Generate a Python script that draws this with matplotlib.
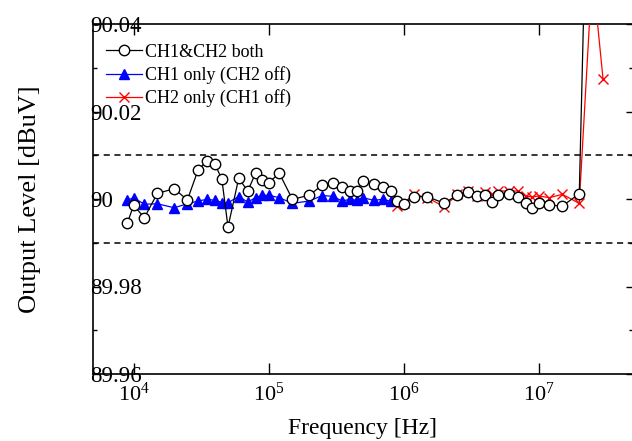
import matplotlib
matplotlib.use('Agg')
import matplotlib.pyplot as plt
from matplotlib.ticker import FixedLocator, NullLocator, FuncFormatter

plt.rcParams['font.family'] = ['Liberation Serif', 'DejaVu Serif']
plt.rcParams['mathtext.fontset'] = 'custom'
plt.rcParams['mathtext.rm'] = 'Liberation Serif'
plt.rcParams['mathtext.default'] = 'regular'

# frequency points (Hz)
freq_both = [9e3, 1e4, 1.2e4, 1.5e4, 2e4, 2.5e4, 3e4, 3.5e4, 4e4, 4.5e4, 5e4, 6e4, 7e4, 8e4, 9e4,
             1e5, 1.2e5, 1.5e5, 2e5, 2.5e5, 3e5, 3.5e5, 4e5, 4.5e5, 5e5, 6e5, 7e5, 8e5, 9e5,
             1e6, 1.2e6, 1.5e6, 2e6, 2.5e6, 3e6, 3.5e6, 4e6, 4.5e6, 5e6, 6e6, 7e6, 8e6, 9e6,
             1e7, 1.2e7, 1.5e7, 2e7, 2.5e7]
level_both = [89.99458, 89.99856, 89.99573, 90.0013, 90.00235, 89.99977, 90.00663, 90.00869, 90.00793,
              90.00457, 89.9936, 90.00473, 90.00183, 90.00587, 90.00427,
              90.00373, 90.00587, 89.99993, 90.00085, 90.0032, 90.00373, 90.00281, 90.00183, 90.00183,
              90.00411, 90.00336, 90.00281, 90.00183, 89.99954,
              89.99893, 90.00053, 90.00053, 89.99902, 90.00091, 90.0016, 90.00069, 90.00091, 89.99938,
              90.00091, 90.00107, 90.00057, 89.99915, 89.99801,
              89.99915, 89.99863, 89.9984, 90.00121, 90.125]

freq_ch1 = [9e3, 1e4, 1.2e4, 1.5e4, 2e4, 2.5e4, 3e4, 3.5e4, 4e4, 4.5e4, 5e4, 6e4, 7e4, 8e4, 9e4,
            1e5, 1.2e5, 1.5e5, 2e5, 2.5e5, 3e5, 3.5e5, 4e5, 4.5e5, 5e5, 6e5, 7e5, 8e5]
level_ch1 = [89.9997, 90.0003, 89.9988, 89.9989, 89.998, 89.9989, 89.99954, 89.99993, 89.9997,
             89.9992, 89.99915, 90.00057, 89.9993, 90.0003, 90.00085,
             90.00085, 90.0003, 89.999, 89.99954, 90.0008, 90.0006, 89.99954, 89.99993, 89.9997,
             90.0003, 89.9997, 89.99993, 89.9995]

freq_ch2 = [9e5, 1e6, 1.2e6, 1.5e6, 2e6, 2.5e6, 3e6, 3.5e6, 4e6, 4.5e6, 5e6, 6e6, 7e6, 8e6, 9e6,
            1e7, 1.2e7, 1.5e7, 2e7, 2.5e7, 3e7]
level_ch2 = [89.9984, 89.99915, 90.00107, 90.0003, 89.9982, 90.00107, 90.00183, 90.0007, 90.0016,
             90.0011, 90.00183, 90.00183, 90.00183, 90.0007, 90.00046,
             90.0007, 90.0003, 90.00107, 89.999, 90.052, 90.0274]

limit_lines = [90.01, 89.99]

fig = plt.figure(figsize=(6.32, 4.41), dpi=100)
ax = fig.add_axes([93 / 632, 1 - 374 / 441, 540 / 632, 350 / 441])

for y in limit_lines:
    ax.axhline(y, color='black', linestyle=(0, (4, 3)), linewidth=1.1, zorder=1)

h_ch1, = ax.plot(freq_ch1, level_ch1, color='blue', marker='^', markersize=7.5,
                 markeredgecolor='blue', linewidth=0.9, label='CH1 only (CH2 off)', zorder=2)
h_ch2, = ax.plot(freq_ch2, level_ch2, color='red', marker='x', markersize=7,
                 markeredgewidth=1.0, linewidth=0.9, label='CH2 only (CH1 off)', zorder=3)
h_both, = ax.plot(freq_both, level_both, color='black', marker='o', markersize=7.5,
                  markerfacecolor='white', markeredgecolor='black', markeredgewidth=1.0,
                  linewidth=0.9, label='CH1&CH2 both', zorder=4)

ax.set_xscale('log')
ax.set_xlim(5e3, 5e7)
ax.set_ylim(89.96, 90.04)
ax.xaxis.set_minor_locator(NullLocator())

ax.yaxis.set_major_locator(FixedLocator([89.96, 89.98, 90.0, 90.02, 90.04]))
ax.yaxis.set_minor_locator(FixedLocator([89.97, 89.99, 90.01, 90.03]))
ax.yaxis.set_major_formatter(FuncFormatter(lambda v, p: ('%.2f' % v).rstrip('0').rstrip('.')))

ax.tick_params(axis='x', which='major', direction='in', length=8, width=1.0,
               top=True, labelsize=16, pad=6)
ax.tick_params(axis='y', which='major', direction='in', length=5, width=1.0,
               right=True, labelsize=16.5, pad=2)
ax.tick_params(axis='y', which='minor', direction='in', length=3, width=1.0, right=True)
for lab in ax.get_yticklabels():
    lab.set_horizontalalignment('left')

for sp in ax.spines.values():
    sp.set_linewidth(1.2)

ax.set_xlabel('Frequency [Hz]', fontsize=17, labelpad=9)
ax.set_ylabel('Output Level [dBuV]', fontsize=19, labelpad=34)

ax.legend(handles=[h_both, h_ch1, h_ch2], loc='upper left', frameon=False, fontsize=13,
          handlelength=2.0, handletextpad=0.2, labelspacing=0.3,
          borderaxespad=0.3, bbox_to_anchor=(0.0, 0.98))

fig.savefig('out.png', dpi=100)
